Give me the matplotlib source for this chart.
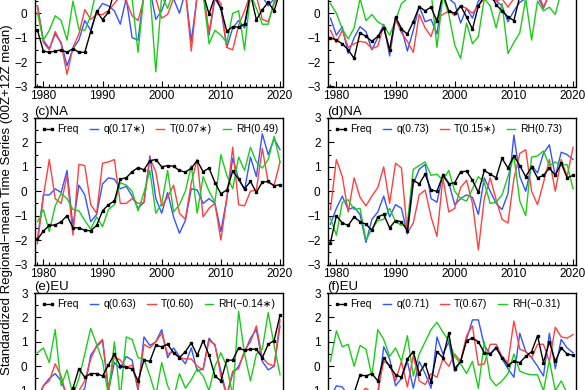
import numpy as np
import matplotlib
matplotlib.use("Agg")
import matplotlib.pyplot as plt
from matplotlib.ticker import MultipleLocator

plt.rcParams['font.family'] = ['Liberation Sans', 'DejaVu Sans']

years = np.arange(1979, 2021)

###################################################################
#   Data (standardized anomalies)
###################################################################

# (a) - only the lower part is visible
freq_a = [-0.7, -1.55, -1.6, -1.55, -1.5, -1.6, -1.45, -1.6, -1.6, -0.75,
          0.08, -0.26, 0.04, 0.9, 1.3, 0.9, 1.1, 1.2, 1.5, 1.2,
          1.0, 1.3, 1.1, 0.9, 1.2, 1.0, 0.9, 1.3, 0.8, -0.03,
          0.7, 0.2, -0.74, -0.55, -0.57, -0.44, 0.8, -0.27, 0.14, 0.45,
          0.1, 0.9]
q_a = [0.3, -1.1, -1.45, -0.85, -1.2, -2.15, -1.45, -1.1, -0.3, -0.7,
       0.05, 0.4, 0.3, 0.1, -0.45, 0.6, -1.0, -1.1, 0.8, 1.0,
       -0.25, 0.1, 0.8, 0.6, 0.0, 0.9, -1.15, 0.7, 0.9, -0.9,
       0.6, 0.2, -1.4, -0.6, -0.3, -0.6, 0.8, 0.9, 0.7, 0.3,
       0.6, 0.9]
t_a = [0.3, -1.2, -1.5, -0.75, -1.25, -2.5, -1.4, -0.85, 0.15, -0.25,
       -0.05, -0.05, 0.1, 0.4, 0.7, 0.5, -0.1, -0.3, 0.6, 0.8,
       0.6, -0.2, -0.05, 0.6, 0.7, 0.9, -1.55, 0.8, 0.9, -0.8,
       0.7, 0.4, -1.4, -1.5, -0.5, 0.1, 0.8, 0.7, -0.25, -0.35,
       0.4, 0.8]
rh_a = [0.0, -1.1, -0.7, -0.1, -0.3, -1.1, 0.5, -0.65, -0.7, -0.1,
        1.0, 0.6, 0.8, 0.9, 0.7, 0.9, 0.6, -1.6, 0.8, 0.9,
        -2.4, 0.7, 0.2, 0.9, 0.8, 0.7, 0.6, 0.9, 0.8, -1.25,
        -0.7, -0.9, -1.2, 0.0, 0.1, -1.5, 0.8, 0.2, -0.45, -0.45,
        0.5, 1.0]

# (b) - only the lower part is visible
freq_b = [-1.0, -1.1, -1.25, -1.5, -1.85, -0.8, -0.95, -1.15, -0.95, -0.6,
          -1.5, -0.15, -0.65, -0.85, -0.35, 0.27, 0.1, 0.25, -0.33, 0.8,
          0.1, 0.0, 0.3, -0.15, -0.65, 0.3, 0.7, 0.8, 0.35, 0.1,
          -0.15, -0.3, 0.7, 0.9, 1.0, 0.8, 0.9, 1.0, 0.9, 1.1,
          1.0, 1.2]
q_b = [-0.2, -0.9, -0.55, -1.65, -1.0, -0.55, -0.75, -1.5, -1.0, -0.45,
       -1.75, -0.2, -0.6, -1.55, -0.7, 0.3, -0.35, -0.25, -0.85, 0.8,
       0.6, 0.4, -0.4, 0.2, -0.2, 0.5, 0.7, 0.6, 0.5, 0.3,
       -0.35, 0.1, 0.45, 0.6, 0.9, 0.7, 0.2, 0.8, 0.9, 1.0,
       0.8, 1.1]
t_b = [-0.7, -1.2, -0.7, -1.4, -1.25, -1.15, -1.2, -1.45, -1.35, -0.5,
       -1.55, -0.25, -0.8, -1.15, -1.6, -0.05, -0.6, -0.95, -0.2, -0.05,
       0.1, -0.1, 0.3, 0.2, 0.0, 0.3, 0.6, 0.7, 0.5, 0.6,
       0.25, 0.6, 0.8, 0.7, 0.6, 0.9, 0.25, 0.8, 0.9, 1.0,
       0.9, 1.2]
rh_b = [0.4, 0.0, -0.65, -1.05, -0.6, 0.6, -0.3, -0.05, -0.35, -0.5,
        -0.9, -0.3, 0.4, 0.6, 0.7, 0.8, 0.9, 0.9, -1.4, 0.7,
        -0.05, -1.3, -1.85, -0.4, -1.25, -0.95, 0.6, 0.3, -0.6, 0.4,
        -1.65, -1.2, -0.8, 0.6, -1.1, 0.5, 0.1, 0.25, -0.05, 0.9,
        0.8, 0.6]

# (c) NA
freq_c = [-1.97, -1.63, -1.4, -1.38, -1.25, -1.0, -1.5, -1.5, -1.6, -1.62,
          -1.4, -0.8, -0.55, -0.4, 0.5, 0.55, 0.8, 0.97, 0.88, 1.25,
          1.3, 1.0, 1.05, 1.02, 0.85, 0.78, 0.95, 1.25, 0.8, 0.95,
          0.35, -0.1, 0.05, 0.82, 0.5, 0.1, 0.4, -0.05, 0.38, 0.4,
          0.22, 0.27]
q_c = [-1.97, -0.15, -0.15, 0.1, -0.05, 0.85, -1.45, 0.25, -0.15, -1.25,
       -0.95, 0.3, 0.55, 0.5, 0.1, 0.2, -0.2, -0.7, -0.45, 1.45,
       -0.3, -0.9, -0.05, -1.05, -1.72, -1.2, 0.1, 0.05, -0.5, -0.3,
       -0.5, -1.65, -0.3, 1.35, 0.5, 0.05, 1.4, 0.6, 2.35, 1.5,
       2.15, 1.7]
t_c = [-2.15, -0.2, 1.3, -0.3, -0.5, 0.65, -1.8, 1.1, 1.05, -0.55,
       -0.9, 1.15, 1.2, 1.3, -0.5, -0.5, -0.3, -0.5, -0.45, 1.35,
       0.8, -0.6, -0.25, 0.25, -0.9, -1.15, 0.35, 1.3, -1.05, -0.7,
       -0.5, -2.0, -0.3, 1.8, -0.55, -0.6, 0.0, 0.05, 1.75, 0.35,
       0.25, 1.2]
rh_c = [-1.25, -0.75, -1.65, -0.6, -0.1, -0.3, -0.75, -0.8, -1.2, -1.55,
        -1.05, -1.45, -0.75, -0.55, 0.35, 0.25, 0.0, -0.8, -0.05, 0.85,
        -0.9, -0.5, 0.85, -0.85, -0.55, 0.0, 1.05, -0.9, 0.6, 0.0,
        -0.45, 1.5, 0.65, 0.1, 1.4, 0.85, 1.8, 1.2, 0.95, 1.3,
        2.25, 1.2]

# (d) NA
freq_d = [-2.1, -1.0, -1.3, -1.4, -1.05, -1.25, -1.35, -1.6, -1.05, -0.95,
          -1.5, -1.2, -1.25, -1.62, 0.45, 0.3, 0.7, 0.05, 0.0, 0.65,
          0.3, 0.35, 0.8, 0.82, 0.45, -0.05, 0.85, 0.7, 0.55, 1.35,
          0.95, 1.45, 1.05, 0.6, 1.0, 0.55, 0.65, 0.95, 0.65, 1.15,
          0.55, 0.65]
q_d = [-1.35, -0.7, -0.2, -0.75, -0.65, -0.95, -2.1, -1.15, -0.85, -0.2,
       -1.05, -0.55, -0.7, -1.75, 0.3, 0.9, 1.1, -0.3, -0.45, 0.7,
       0.35, -0.55, -0.3, -0.15, -0.25, -0.95, 0.55, 0.0, -0.5, -0.75,
       -0.1, 2.3, 0.6, 0.0, 1.05, 0.75, 1.55, 1.9, 0.6, 1.6,
       1.5, 1.3]
t_d = [-0.75, 1.3, 0.6, -0.85, 0.55, -0.25, -0.6, -0.2, 0.15, 1.0,
       -0.5, 1.15, 0.95, -1.7, -1.3, -0.15, 0.05, -1.05, -1.85, 0.55,
       -0.85, -0.7, 0.15, 0.45, -0.5, -2.4, -0.3, 0.55, -0.35, -1.15,
       -1.3, 0.5, 1.55, 1.7, 0.0, -0.55, 0.35, 1.3, 0.0, 1.3,
       0.6, 1.8]
rh_d = [-1.1, -1.8, -0.45, -0.35, -0.75, -0.7, -2.0, -1.55, -1.2, -1.15,
        -0.7, -1.25, -1.4, -1.3, 0.9, 1.05, 1.2, 0.65, 0.7, 0.45,
        0.85, 0.0, -0.3, -0.4, 0.1, 0.6, 0.35, -0.5, -0.45, -0.15,
        0.6, 1.45, -0.4, -1.0, 1.4, 1.45, 1.65, 1.05, 1.2, 1.05,
        1.1, 0.1]

# (e) EU - only the upper part is visible
freq_e = [-1.5, -1.4, -1.3, -1.4, -1.2, -1.3, -0.9, -0.1, -0.45, -0.3,
          -0.3, -0.4, 0.05, 0.5, 0.0, -0.05, -0.1, -0.6, 0.25, 0.2,
          0.85, 0.8, 0.9, 0.55, 0.35, 0.6, 0.95, 0.45, 1.05, 0.45,
          -0.4, -0.6, 0.25, 0.25, 0.75, 0.65, 0.7, 0.7, 0.35, 0.9,
          1.05, 2.1]
q_e = [-1.5, -0.8, -0.5, -0.3, -0.6, -1.2, -1.3, -1.2, -0.9, 0.45,
       0.8, 1.05, -1.0, 0.15, -0.1, 0.4, 0.25, -1.0, 1.2, 0.85,
       1.0, 1.5, 0.35, 0.75, 0.4, 0.1, 0.75, -0.2, -0.1, 1.15,
       0.85, -0.2, -1.2, -0.3, 0.0, 0.55, 1.15, 1.5, 0.2, -0.15,
       0.0, 1.65]
t_e = [-1.3, -0.8, -0.6, 0.1, -0.4, -1.3, -1.2, -1.0, -0.6, 0.3,
       0.85, 1.1, -0.9, 0.4, 0.25, -0.05, 0.05, -0.9, 0.9, 0.75,
       1.0, 1.35, 0.5, 0.6, 0.35, 0.3, 0.3, 0.0, -0.15, 1.05,
       0.9, -0.4, -1.2, -0.2, -0.1, 0.65, 1.0, 1.65, 0.35, 0.1,
       0.0, 1.9]
rh_e = [0.55, 0.75, 0.15, 1.5, -0.8, -0.15, -1.2, -0.5, 0.5, 1.55,
        0.9, 0.2, -1.2, 1.0, -1.3, 1.2, 1.1, 0.35, 0.3, -0.4,
        -1.2, 0.15, -0.8, -1.3, -0.3, -0.9, -0.55, -0.1, -0.4, -1.0,
        0.0, 0.55, 0.0, -1.2, 2.25, 0.5, -0.6, 0.5, 0.7, 2.2,
        0.85, -0.35]

# (f) EU - only the upper part is visible
freq_f = [-1.4, -1.3, -1.2, -1.35, -1.1, -0.35, -0.4, -0.3, -0.6, 0.35,
          0.0, -0.35, -0.45, 0.3, 0.6, -0.3, 0.1, -0.65, 0.6, 0.35,
          1.35, -0.1, 0.2, 1.05, 1.15, 1.0, 0.55, 0.5, 0.75, 0.35,
          0.05, 0.2, 0.15, 0.4, 0.6, 1.25, 0.15, 1.0, 0.2, 0.75,
          0.5, 0.45]
q_f = [-1.3, -0.8, -0.85, -1.2, -1.4, -1.1, -1.3, -1.0, -1.2, 0.8,
       0.3, -0.8, -0.5, 0.2, -0.9, 0.2, -0.3, -0.9, 1.2, 0.5,
       1.0, -0.2, 0.2, 1.1, 1.9, 1.9, 0.85, 0.5, 0.8, 0.3,
       -0.1, -0.45, 1.35, 0.6, 0.35, 0.0, -0.4, 1.35, -0.1, 1.1,
       0.75, 0.55]
t_f = [-1.2, -1.1, -1.3, -1.0, -1.2, -1.1, -0.9, -1.1, -1.0, 0.2,
       0.05, -0.6, 0.2, -0.85, 0.45, -0.6, -0.75, -0.3, -0.45, 0.3,
       0.0, 0.5, 0.2, 1.25, 1.65, 0.05, 0.1, 0.9, 0.9, 0.4,
       0.15, 1.85, 0.7, 0.6, 0.35, 0.9, 0.9, 0.2, 1.6, 1.2,
       1.15, 1.3]
rh_f = [0.2, 1.45, 0.8, 0.9, 0.0, 0.85, 0.7, -0.4, 1.5, 1.1,
        0.4, 0.75, 0.2, 1.25, -0.4, 0.5, 1.0, 1.5, 1.8, 1.4,
        1.05, 0.4, 0.1, -0.3, 0.2, -0.9, 1.0, -0.5, -0.8, -0.6,
        -0.3, 0.5, -0.2, -0.3, -0.35, -0.35, -1.0, 0.25, -1.0, -0.6,
        -1.1, -1.2]

titles = ["", "", "(c)NA", "(d)NA", "(e)EU", "(f)EU"]
labels_q = ["", "", "q(0.17\u2217)", "q(0.73)", "q(0.63)", "q(0.71)"]
labels_t = ["", "", "T(0.07\u2217)", "T(0.15\u2217)", "T(0.60)", "T(0.67)"]
labels_rh = ["", "", "RH(0.49)", "RH(0.73)", "RH(\u22120.14\u2217)", "RH(\u22120.31)"]

panels = [(freq_a, q_a, t_a, rh_a), (freq_b, q_b, t_b, rh_b),
          (freq_c, q_c, t_c, rh_c), (freq_d, q_d, t_d, rh_d),
          (freq_e, q_e, t_e, rh_e), (freq_f, q_f, t_f, rh_f)]

###################################################################
#   Figure: a crop out of a 3x2 panel layout
###################################################################
fig = plt.figure(figsize=(5.85, 3.9), dpi=100)

col_left = [34.5 / 585, 327.5 / 585]
width = 248.5 / 585
height = 146.5 / 390
row_bottom = [1 - 86.5 / 390, 1 - 264.5 / 390, 1 - 439.5 / 390]

yt = [-3, -2, -1, 0, 1, 2, 3]
yl = ["\u22123", "\u22122", "\u22121", "0", "1", "2", "3"]

for k, (freq, q, t, rh) in enumerate(panels):
    row = k // 2
    ax = fig.add_axes([col_left[k % 2], row_bottom[row], width, height])
    ax.plot(years, q, color="#3355ff", lw=1.0, label=labels_q[k])
    ax.plot(years, t, color="#ff4040", lw=1.0, label=labels_t[k])
    ax.plot(years, rh, color="#1ccc1c", lw=1.0, label=labels_rh[k])
    ax.plot(years, freq, color="black", lw=1.0, marker="s", ms=1.8, label="Freq")

    ax.set_xlim(1978.5, 2020.5)
    ax.set_ylim(-3, 3)
    ax.xaxis.set_major_locator(MultipleLocator(10))
    ax.xaxis.set_minor_locator(MultipleLocator(1))
    ax.yaxis.set_minor_locator(MultipleLocator(0.5))
    # only the labels that fall inside the cropped picture
    if row == 0:
        ax.set_yticks(yt, labels=yl[:4] + ["", "", ""])
    elif row == 2:
        ax.set_yticks(yt, labels=["", ""] + yl[2:])
        ax.tick_params(labelbottom=False)
    else:
        ax.set_yticks(yt, labels=yl)
    ax.tick_params(which="both", direction="in", top=False, right=False, labelsize=8.5)
    ax.tick_params(axis="y", pad=5)
    ax.tick_params(axis="x", pad=2.5)
    ax.tick_params(which="major", length=4, width=0.8)
    ax.tick_params(which="minor", length=2, width=0.8)
    for s in ax.spines.values():
        s.set_linewidth(1.0)

    if titles[k]:
        ax.set_title(titles[k], loc="left", fontsize=9.5, pad=1, x=0.0)
        h, l = ax.get_legend_handles_labels()
        order = [3, 0, 1, 2]
        ax.legend([h[i] for i in order], [l[i] for i in order], ncol=4,
                  loc="upper left", bbox_to_anchor=(0.0, 1.0), frameon=False,
                  fontsize=7.5, handlelength=1.4, handletextpad=0.2,
                  columnspacing=0.75, borderaxespad=0.2, numpoints=2)

fig.text(0.012, 0.487, "Standardized Regional\u2212mean Time Series (00Z+12Z mean)",
         rotation=90, ha="center", va="center", fontsize=9.5)

fig.savefig("out.png", dpi=100)
